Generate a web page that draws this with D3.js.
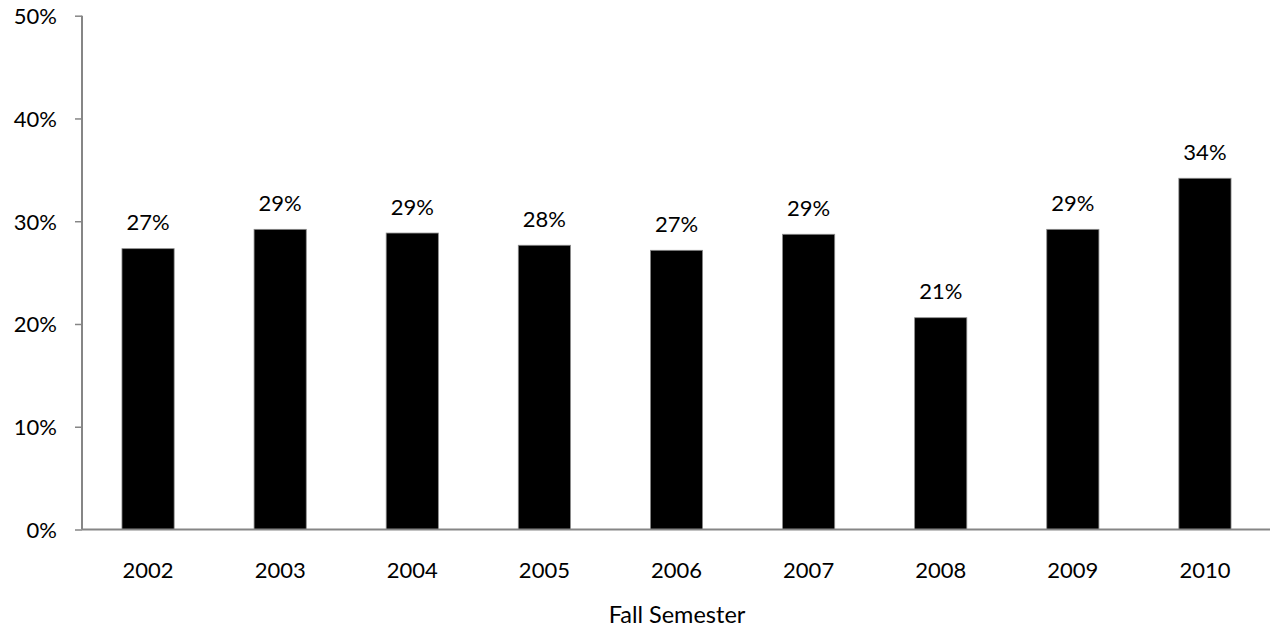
<!DOCTYPE html>
<html>
<head>
<meta charset="utf-8">
<script src="https://cdn.jsdelivr.net/npm/d3@7"></script>
<style>
  body { margin: 0; background: #fff; }
  svg { display: block; font-family: Lato, "Open Sans", sans-serif; }
</style>
</head>
<body>
<svg width="1270" height="636"></svg>
<script>
const years = ['2002', '2003', '2004', '2005', '2006', '2007', '2008', '2009', '2010'];
const rates = [0.2733, 0.2921, 0.2885, 0.2766, 0.2717, 0.2873, 0.2061, 0.2921, 0.3418];
const yTicks = [0, 0.1, 0.2, 0.3, 0.4, 0.5];

const margin = {left: 82, top: 15.7, right: 0};
const width = 1270 - margin.left;
const height = 529.5 - margin.top;

const svg = d3.select("svg");

const x = d3.scaleBand()
    .domain(years)
    .range([0, 1189])
    .paddingInner(0.605)
    .paddingOuter(0.3025);

const y = d3.scaleLinear()
    .domain([0, 0.5])
    .range([height, 0]);

const g = svg.append("g")
    .attr("transform", `translate(${margin.left}, ${margin.top})`);

// bars
g.selectAll("rect.bar")
    .data(years)
    .enter()
    .append("rect")
    .attr("class", "bar")
    .attr("x", d => x(d))
    .attr("y", (d, i) => y(rates[i]))
    .attr("width", x.bandwidth())
    .attr("height", (d, i) => height - y(rates[i]))
    .attr("fill", "#000")
    .attr("stroke", "#8c8c8c")
    .attr("stroke-width", 0.8);

// value labels
g.selectAll("text.val")
    .data(years)
    .enter()
    .append("text")
    .attr("class", "val")
    .attr("x", d => x(d) + x.bandwidth() / 2)
    .attr("y", (d, i) => y(rates[i]) - 18.5)
    .attr("text-anchor", "middle")
    .attr("font-size", 22)
    .attr("fill", "#000")
    .text((d, i) => d3.format(".0%")(rates[i]));

// y axis
const yAxis = d3.axisLeft(y)
    .tickValues(yTicks)
    .tickFormat(d3.format(".0%"))
    .tickSize(7)
    .tickPadding(18);

const yg = g.append("g").call(yAxis);
yg.select(".domain").attr("stroke", "#868686").attr("stroke-width", 2).attr("d", `M0,0V${height}`);
yg.selectAll(".tick line").attr("stroke", "#868686").attr("stroke-width", 1.5);
yg.selectAll(".tick text").attr("font-size", 22).attr("font-family", "Lato, sans-serif").attr("fill", "#000").attr("dy", "0.36em");

// x axis
const xAxis = d3.axisBottom(x).tickSize(0).tickPadding(33);
const xg = g.append("g")
    .attr("transform", `translate(0, ${height})`)
    .call(xAxis);
xg.select(".domain").attr("stroke", "#868686").attr("stroke-width", 2).attr("d", `M0,0H${width}`);
xg.selectAll(".tick text").attr("font-size", 22).attr("font-family", "Lato, sans-serif").attr("fill", "#000");

// axis title
svg.append("text")
    .attr("x", 677)
    .attr("y", 623)
    .attr("text-anchor", "middle")
    .attr("font-size", 23.5)
    .attr("fill", "#000")
    .text("Fall Semester");
</script>
</body>
</html>
